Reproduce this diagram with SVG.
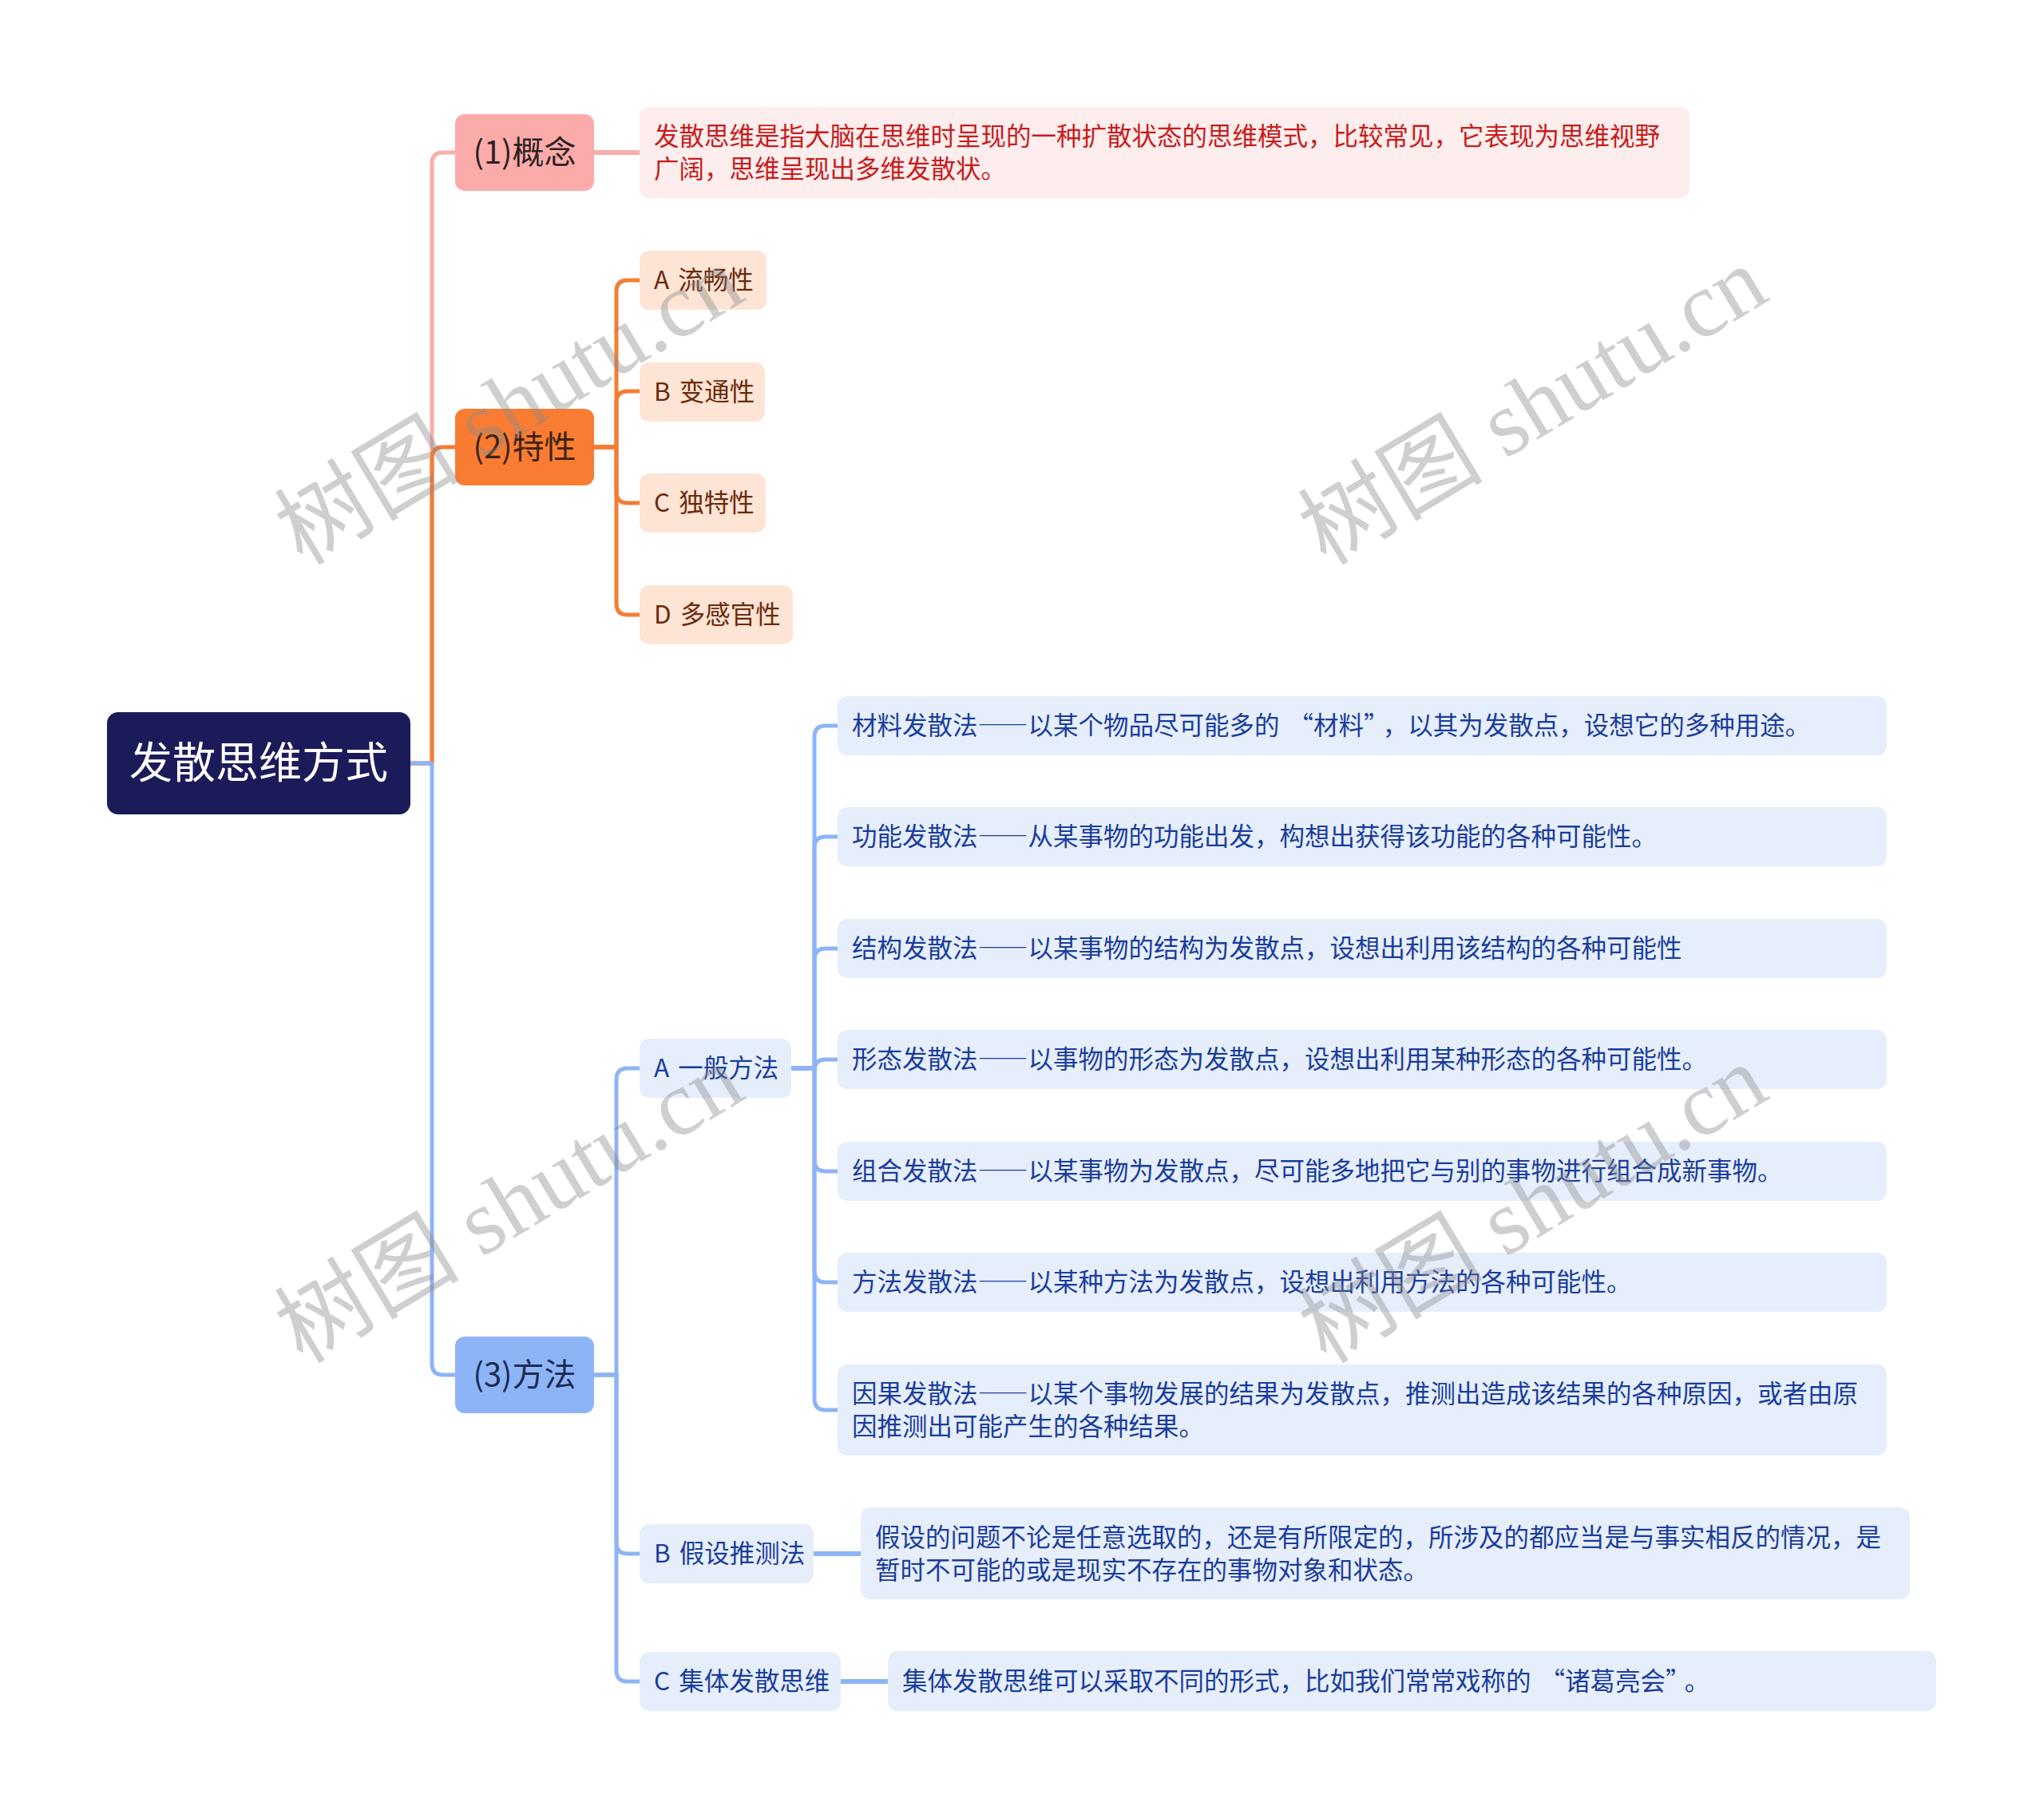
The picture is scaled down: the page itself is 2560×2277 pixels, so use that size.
<svg xmlns="http://www.w3.org/2000/svg" width="2560" height="2277" viewBox="0 0 2560 2277">
<style>
text{font-family:"Noto Sans CJK SC","Noto Sans",sans-serif}
.l1{font-size:40px;text-anchor:middle}
.t{font-size:31.5px}
.fw{font-feature-settings:"fwid" 1}
.pk{stroke:#f7aeac}
.or{stroke:#f57c33}
.bl{stroke:#8db4f5}
.conn path{fill:none;stroke-width:5;stroke-linejoin:round}
.conn path.thick{stroke-width:6}
.peach{fill:#fde4d5}
.lb{fill:#e6eefc}
.bt{fill:#1a3d9c}
.brt{fill:#6b2a0c}
.wm{font-family:"Liberation Serif","Noto Sans CJK SC",serif;font-size:116px;fill:#8a8a8a;opacity:0.4;text-anchor:middle}
</style>
<rect width="2560" height="2277" fill="#ffffff"/>
<g class="conn" id="connectors">
<path class="pk" d="M514,956 H541 V205 Q541,191 555,191 H570"/>
<path class="pk thick" d="M744,191 H801"/>
<path class="or" d="M514,956 H541 V574 Q541,560 555,560 H570"/>
<path class="or" d="M744,560 H772 V365 Q772,351 786,351 H801"/>
<path class="or" d="M744,560 H772 V504 Q772,490 786,490 H801"/>
<path class="or" d="M744,560 H772 V616 Q772,630 786,630 H801"/>
<path class="or" d="M744,560 H772 V756 Q772,770 786,770 H801"/>
<path class="bl" d="M514,956 H541 V1708 Q541,1722 555,1722 H570"/>
<path class="bl" d="M744,1722 H772 V1352 Q772,1338 786,1338 H801"/>
<path class="bl" d="M744,1722 H772 V1932 Q772,1946 786,1946 H801"/>
<path class="bl" d="M744,1722 H772 V2092 Q772,2106 786,2106 H801"/>
<path class="bl" d="M991,1338 H1020 V923 Q1020,909 1034,909 H1049"/>
<path class="bl" d="M991,1338 H1020 V1062 Q1020,1048 1034,1048 H1049"/>
<path class="bl" d="M991,1338 H1020 V1202 Q1020,1188 1034,1188 H1049"/>
<path class="bl" d="M991,1338 H1020 V1341 Q1020,1327 1034,1327 H1049"/>
<path class="bl" d="M991,1338 H1020 V1453 Q1020,1467 1034,1467 H1049"/>
<path class="bl" d="M991,1338 H1020 V1592 Q1020,1606 1034,1606 H1049"/>
<path class="bl" d="M991,1338 H1020 V1752 Q1020,1766 1034,1766 H1049"/>
<path class="bl thick" d="M1019,1946 H1078"/>
<path class="bl thick" d="M1053,2106 H1112"/>
</g>
<g id="root"><rect x="134" y="892" width="380" height="128" rx="14" fill="#1c1b5a"/><text x="324" y="975" font-size="54" text-anchor="middle" fill="#ffffff">发散思维方式</text></g>
<g id="n1"><rect x="570" y="143" width="174" height="96" rx="12" fill="#fcabab"/><text class="l1" x="657" y="205" fill="#2d2222">(1)概念</text></g>
<g id="n1d"><rect x="801" y="134" width="1315" height="114" rx="12" fill="#fdeded"/><text class="t" fill="#c81c1c"><tspan x="819" y="182">发散思维是指大脑在思维时呈现的一种扩散状态的思维模式，比较常见，它表现为思维视野</tspan><tspan x="819" y="223">广阔，思维呈现出多维发散状。</tspan></text></g>
<g id="n2"><rect x="570" y="512" width="174" height="96" rx="12" fill="#fa7c32"/><text class="l1" x="657" y="574" fill="#3b2314">(2)特性</text></g>
<g id="n2a"><rect class="peach" x="801" y="314" width="159" height="74" rx="12"/><text class="t brt" x="819" y="362">A <tspan dx="4">流畅性</tspan></text></g>
<g id="n2b"><rect class="peach" x="801" y="454" width="157" height="74" rx="12"/><text class="t brt" x="819" y="502">B <tspan dx="4">变通性</tspan></text></g>
<g id="n2c"><rect class="peach" x="801" y="593" width="158" height="74" rx="12"/><text class="t brt" x="819" y="641">C <tspan dx="4">独特性</tspan></text></g>
<g id="n2d"><rect class="peach" x="801" y="733" width="192" height="74" rx="12"/><text class="t brt" x="819" y="781">D <tspan dx="4">多感官性</tspan></text></g>
<g id="n3"><rect x="570" y="1674" width="174" height="96" rx="12" fill="#8db4f7"/><text class="l1" x="657" y="1736" fill="#1d2b4f">(3)方法</text></g>
<g id="n3a"><rect class="lb" x="801" y="1301" width="190" height="74" rx="12"/><text class="t bt" x="819" y="1349">A <tspan dx="4">一般方法</tspan></text></g>
<g id="m1"><rect class="lb" x="1049" y="872" width="1314" height="74" rx="12"/><text class="t bt fw" x="1067" y="920">材料发散法——以某个物品尽可能多的<tspan dx="11">“</tspan>材料”<tspan dx="8">，</tspan>以其为发散点，设想它的多种用途。</text></g>
<g id="m2"><rect class="lb" x="1049" y="1011" width="1314" height="74" rx="12"/><text class="t bt fw" x="1067" y="1059">功能发散法——从某事物的功能出发，构想出获得该功能的各种可能性。</text></g>
<g id="m3"><rect class="lb" x="1049" y="1151" width="1314" height="74" rx="12"/><text class="t bt fw" x="1067" y="1199">结构发散法——以某事物的结构为发散点，设想出利用该结构的各种可能性</text></g>
<g id="m4"><rect class="lb" x="1049" y="1290" width="1314" height="74" rx="12"/><text class="t bt fw" x="1067" y="1338">形态发散法——以事物的形态为发散点，设想出利用某种形态的各种可能性。</text></g>
<g id="m5"><rect class="lb" x="1049" y="1430" width="1314" height="74" rx="12"/><text class="t bt fw" x="1067" y="1478">组合发散法——以某事物为发散点，尽可能多地把它与别的事物进行组合成新事物。</text></g>
<g id="m6"><rect class="lb" x="1049" y="1569" width="1314" height="74" rx="12"/><text class="t bt fw" x="1067" y="1617">方法发散法——以某种方法为发散点，设想出利用方法的各种可能性。</text></g>
<g id="m7"><rect class="lb" x="1049" y="1709" width="1314" height="114" rx="12"/><text class="t bt fw"><tspan x="1067" y="1757">因果发散法——以某个事物发展的结果为发散点，推测出造成该结果的各种原因，或者由原</tspan><tspan x="1067" y="1798">因推测出可能产生的各种结果。</tspan></text></g>
<g id="n3b"><rect class="lb" x="801" y="1909" width="218" height="74" rx="12"/><text class="t bt" x="819" y="1957">B <tspan dx="4">假设推测法</tspan></text></g>
<g id="n3bd"><rect class="lb" x="1078" y="1888" width="1314" height="115" rx="12"/><text class="t bt"><tspan x="1096" y="1937">假设的问题不论是任意选取的，还是有所限定的，所涉及的都应当是与事实相反的情况，是</tspan><tspan x="1096" y="1978">暂时不可能的或是现实不存在的事物对象和状态。</tspan></text></g>
<g id="n3c"><rect class="lb" x="801" y="2069" width="252" height="74" rx="12"/><text class="t bt" x="819" y="2117">C <tspan dx="4">集体发散思维</tspan></text></g>
<g id="n3cd"><rect class="lb" x="1112" y="2068" width="1313" height="75" rx="12"/><text class="t bt fw" x="1130" y="2117">集体发散思维可以采取不同的形式，比如我们常常戏称的<tspan dx="11">“</tspan>诸葛亮会”<tspan dx="8">。</tspan></text></g>
<g id="watermark">
<text class="wm" transform="translate(658,542) rotate(-31)">树图 shutu.cn</text>
<text class="wm" transform="translate(1940,542) rotate(-31)">树图 shutu.cn</text>
<text class="wm" transform="translate(658,1542) rotate(-31)">树图 shutu.cn</text>
<text class="wm" transform="translate(1940,1542) rotate(-31)">树图 shutu.cn</text>
</g>
</svg>
